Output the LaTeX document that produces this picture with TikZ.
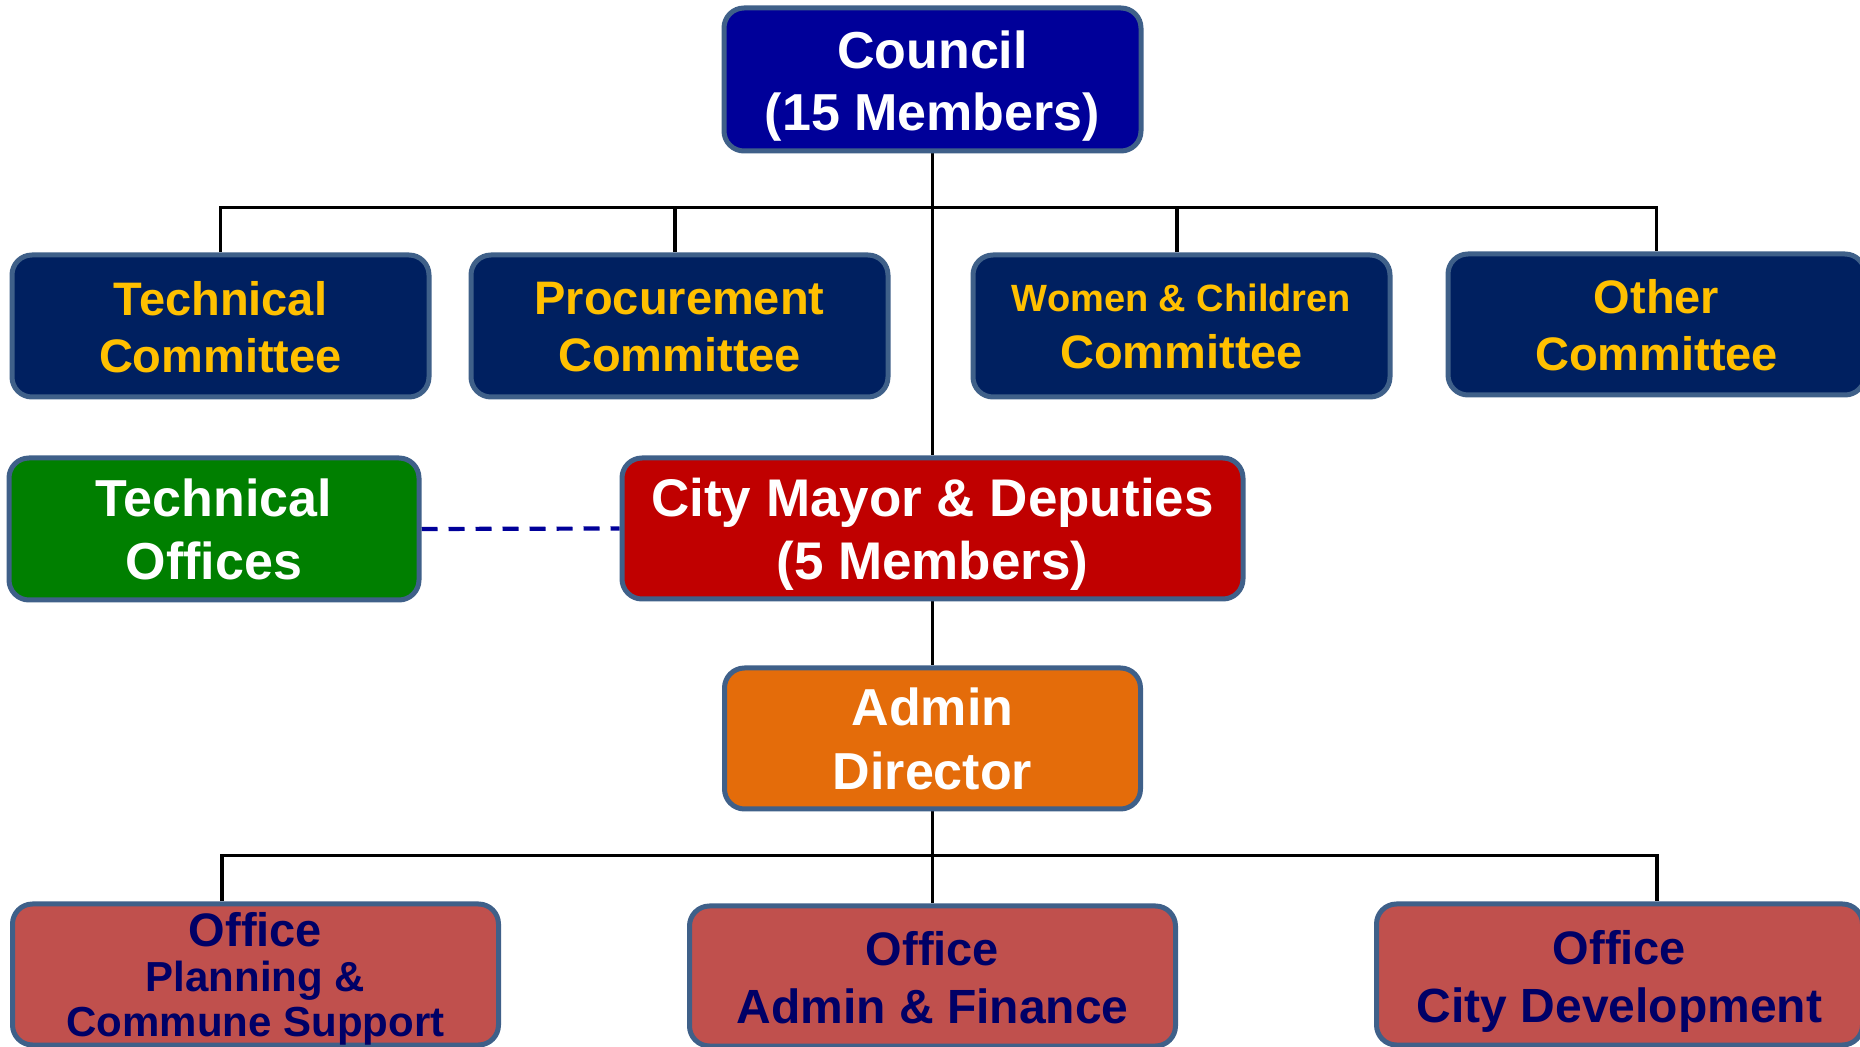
\documentclass[tikz,border=0pt]{standalone}
\usepackage{fontspec}
\setmainfont{Liberation Sans}
\usetikzlibrary{backgrounds}
\definecolor{councilblue}{HTML}{000099}
\definecolor{navybox}{HTML}{002060}
\definecolor{goldtext}{HTML}{FFC000}
\definecolor{greenbox}{HTML}{007F00}
\definecolor{redbox}{HTML}{C00000}
\definecolor{orangebox}{HTML}{E46C0A}
\definecolor{officebox}{HTML}{C0504D}
\definecolor{officetext}{HTML}{000066}
\definecolor{bordercol}{HTML}{3F6089}
\definecolor{dashcol}{HTML}{000099}
\begin{document}
\begin{tikzpicture}[x=0.5pt,y=-0.5pt,
  box/.style={draw=bordercol, line width=2.5pt, rounded corners=10pt, inner sep=0pt},
  txt/.style={align=center, inner sep=0pt},
  wide/.style={minimum width=208.5pt, minimum height=71pt},
  committee/.style={box, wide, fill=navybox},
  comtext/.style={txt, text=goldtext, font=\fontsize{23.5}{28.5}\selectfont\bfseries},
  whitebox/.style={box, minimum height=71pt},
  office/.style={box, fill=officebox, minimum width=243pt, minimum height=70.5pt},
  offtext/.style={txt, text=officetext, font=\fontsize{24}{29}\selectfont\bfseries},
  conn/.style={line width=1.9pt, black},
  dashline/.style={line width=2.1pt, dashcol, dash pattern=on 8pt off 5.5pt},
]
\useasboundingbox (0,0) rectangle (1860,1047);

% top
\node[box, wide, fill=councilblue, minimum height=71.5pt] (council) at (932.5,79.5) {};
\node[txt, text=white, font=\fontsize{26}{31}\selectfont\bfseries, yshift=-3.3pt] (councilt) at (council.center) {Council\\(15 Members)};

% committees
\node[committee] (tech)  at (220.5,326) {};
\node[comtext, yshift=-0.6pt] (techt) at (tech.center) {Technical\\Committee};
\node[committee] (proc)  at (679.5,326) {};
\node[comtext, yshift=-0.6pt] (proct) at (proc.center) {Procurement\\Committee};
\node[committee] (women) at (1181.5,326) {};
\node[comtext, yshift=0pt] (woment) at (women.center) {{\fontsize{19}{21}\selectfont Women \& Children}\\Committee};
\node[committee, minimum height=70.5pt] (other) at (1656.5,324.5) {};
\node[comtext, yshift=-0.6pt] (othert) at (other.center) {Other\\Committee};

% middle
\node[whitebox, fill=greenbox, minimum width=205pt] (techoff) at (214,529) {};
\node[txt, text=white, font=\fontsize{26}{31.5}\selectfont\bfseries] (techofft) at (techoff.center) {Technical\\Offices};
\node[whitebox, fill=redbox, minimum width=310.5pt, minimum height=70.5pt] (mayor) at (932.5,528.5) {};
\node[txt, text=white, font=\fontsize{26.5}{31.5}\selectfont\bfseries, yshift=-2.8pt] (mayort) at (mayor.center) {City Mayor \& Deputies\\(5 Members)};
\node[whitebox, fill=orangebox, minimum width=208pt, minimum height=70.5pt] (admin) at (932.5,738.5) {};
\node[txt, text=white, font=\fontsize{26}{32}\selectfont\bfseries] (admint) at (admin.center) {Admin\\Director};

% offices
\node[office] (plan) at (255.5,974.5) {};
\node[txt, text=officetext, font=\fontsize{21}{22.5}\selectfont\bfseries, yshift=-2pt] (plant) at (plan.center)
      {{\fontsize{23.5}{26}\selectfont Office}\\Planning \&\\Commune Support};
\node[office, minimum height=70pt] (fin) at (932.5,976) {};
\node[offtext, yshift=-1pt] (fint) at (fin.center) {{\fontsize{23.5}{29}\selectfont Office}\\Admin \& Finance};
\node[office] (dev) at (1619.5,974.5) {};
\node[offtext, yshift=-3.3pt] (devt) at (dev.center) {{\fontsize{23.5}{29}\selectfont Office}\\City Development};

\begin{scope}[on background layer]
  \draw[conn] (council.south) -- (mayor.north);
  \draw[conn] (tech.north) -- ++(0,-45) -| (other.north);
  \draw[conn] ([xshift=-2.25pt]proc.north) -- ++(0,-45);
  \draw[conn] ([xshift=-2.25pt]women.north) -- ++(0,-45);
  \draw[conn] (mayor.south) -- (admin.north);
  \draw[conn] (admin.south) -- (fin.north);
  \draw[conn] ([xshift=-16.75pt]plan.north) -- ++(0,-46) -| ([xshift=18.75pt]dev.north);
  \draw[dashline] (techoff.east) -- (mayor.west);
\end{scope}
\end{tikzpicture}
\end{document}
